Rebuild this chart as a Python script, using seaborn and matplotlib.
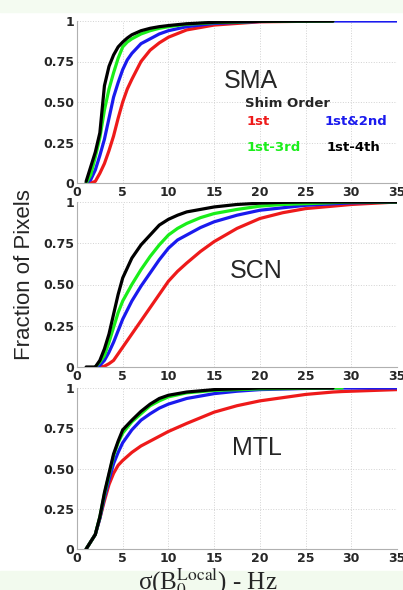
import numpy as np
import pandas as pd
import seaborn as sns
import matplotlib.pyplot as plt
from matplotlib.patches import Rectangle

nan = np.nan

# x grids (Hz) and cumulative fraction of pixels, per region and shim order
sma_x = [1, 1.5, 2, 2.5, 3, 3.5, 4, 4.5, 5, 5.5, 6, 7, 8, 9, 10, 12, 15, 20, 28, 35]
sma_1st = [0, 0, 0.01, 0.06, 0.12, 0.20, 0.29, 0.40, 0.50, 0.58, 0.64, 0.75, 0.82, 0.865, 0.90, 0.945, 0.975, 0.995, 1.0, nan]
sma_1st2nd = [0, 0.02, 0.08, 0.17, 0.27, 0.40, 0.53, 0.62, 0.70, 0.76, 0.80, 0.86, 0.89, 0.92, 0.94, 0.965, 0.985, 0.997, 1.0, 1.0]
sma_1st3rd = [0, 0.05, 0.16, 0.28, 0.45, 0.58, 0.68, 0.77, 0.84, 0.87, 0.89, 0.92, 0.94, 0.955, 0.965, 0.98, 0.99, 0.998, 1.0, nan]
sma_1st4th = [0.01, 0.10, 0.19, 0.31, 0.60, 0.72, 0.79, 0.84, 0.87, 0.895, 0.915, 0.94, 0.955, 0.965, 0.972, 0.983, 0.992, 0.998, 1.0, nan]

scn_x = [1, 2, 2.5, 3, 3.5, 4, 4.5, 5, 6, 7, 8, 9, 10, 11, 12, 13.5, 15, 17.5, 20, 22.5, 25, 30, 35]
scn_1st = [nan, 0, 0, 0.005, 0.02, 0.04, 0.08, 0.12, 0.20, 0.28, 0.36, 0.44, 0.52, 0.58, 0.63, 0.70, 0.76, 0.84, 0.90, 0.935, 0.96, 0.985, 1.0]
scn_1st2nd = [nan, 0, 0.01, 0.04, 0.09, 0.15, 0.22, 0.29, 0.40, 0.49, 0.57, 0.65, 0.72, 0.77, 0.80, 0.845, 0.88, 0.92, 0.95, 0.965, 0.98, 0.995, 1.0]
scn_1st3rd = [nan, 0, 0.03, 0.07, 0.15, 0.24, 0.33, 0.40, 0.50, 0.59, 0.67, 0.74, 0.80, 0.84, 0.87, 0.905, 0.93, 0.955, 0.975, 0.985, 0.99, 1.0, 1.0]
scn_1st4th = [0, 0, 0.04, 0.11, 0.20, 0.32, 0.44, 0.54, 0.66, 0.74, 0.80, 0.86, 0.895, 0.92, 0.94, 0.955, 0.97, 0.985, 0.993, 0.998, 1.0, 1.0, 1.0]

mtl_x = [1, 2, 2.5, 3, 3.5, 4, 4.5, 5, 6, 7, 8, 9, 10, 12, 15, 17.5, 20, 25, 28, 29, 30, 35]
mtl_1st = [0, 0.09, 0.19, 0.30, 0.40, 0.47, 0.52, 0.55, 0.60, 0.64, 0.67, 0.70, 0.73, 0.78, 0.85, 0.89, 0.92, 0.96, 0.975, 0.978, 0.98, 0.99]
mtl_1st2nd = [0, 0.09, 0.19, 0.32, 0.43, 0.53, 0.60, 0.66, 0.74, 0.80, 0.84, 0.875, 0.90, 0.935, 0.965, 0.98, 0.99, 0.997, 1.0, 1.0, 1.0, 1.0]
mtl_1st3rd = [0, 0.09, 0.20, 0.34, 0.46, 0.58, 0.66, 0.72, 0.79, 0.84, 0.89, 0.92, 0.945, 0.97, 0.985, 0.99, 0.995, 0.998, 1.0, 1.0, nan, nan]
mtl_1st4th = [0, 0.09, 0.20, 0.35, 0.47, 0.59, 0.67, 0.74, 0.80, 0.855, 0.90, 0.935, 0.955, 0.975, 0.99, 0.995, 1.0, 1.0, 1.0, nan, nan, nan]

orders = ["1st", "1st&2nd", "1st-3rd", "1st-4th"]
colors = {"1st": "#ee1a1a", "1st&2nd": "#1a1aee", "1st-3rd": "#1aee1a", "1st-4th": "#000000"}
regions = ["SMA", "SCN", "MTL"]
x_ticks = [0, 5, 10, 15, 20, 25, 30, 35]
y_ticks = [0, 0.25, 0.5, 0.75, 1]
y_tick_labels = ["0", "0.25", "0.50", "0.75", "1"]

panels = {
    "SMA": (sma_x, [sma_1st, sma_1st2nd, sma_1st3rd, sma_1st4th]),
    "SCN": (scn_x, [scn_1st, scn_1st2nd, scn_1st3rd, scn_1st4th]),
    "MTL": (mtl_x, [mtl_1st, mtl_1st2nd, mtl_1st3rd, mtl_1st4th]),
}

sns.set_theme(style="white")
plt.rcParams['font.family'] = ['DejaVu Sans']
plt.rcParams['mathtext.fontset'] = 'stix'

fig = plt.figure(figsize=(4.03, 5.90), dpi=100)
fig.patches.append(Rectangle((0, 0), 1, 19 / 590, transform=fig.transFigure,
                             color="#f2faee", zorder=0))
fig.patches.append(Rectangle((0, 1 - 12 / 590), 1, 12 / 590, transform=fig.transFigure,
                             color="#f4fbf1", zorder=0))

# axes boxes in pixels (top, bottom)
boxes = [(21, 183), (202, 367), (388, 549)]
label_pos = {"SMA": (19.0, 0.63), "SCN": (19.6, 0.58), "MTL": (19.7, 0.63)}

for region, (top, bottom) in zip(regions, boxes):
    ax = fig.add_axes([77 / 403, 1 - bottom / 590, 320 / 403, (bottom - top) / 590])
    xs, series = panels[region]
    rows = []
    for order, ys in zip(orders, series):
        for x, y in zip(xs, ys):
            if not np.isnan(y):
                rows.append({"x": x, "y": y, "order": order})
    df = pd.DataFrame(rows)
    sns.lineplot(data=df, x="x", y="y", hue="order", hue_order=orders,
                 palette=colors, linewidth=2.3, estimator=None, sort=False,
                 legend=False, ax=ax)

    ax.set_xlim(0, 35)
    ax.set_ylim(0, 1)
    ax.set_xticks(x_ticks)
    ax.set_yticks(y_ticks)
    ax.set_yticklabels(y_tick_labels)
    ax.tick_params(length=0, labelsize=9, pad=2)
    for lab in ax.get_xticklabels() + ax.get_yticklabels():
        lab.set_fontweight("bold")
    ax.grid(True, color="#d2d2d2", linestyle=":", linewidth=0.7)
    for side in ["top", "right"]:
        ax.spines[side].set_visible(False)
    for side in ["left", "bottom"]:
        ax.spines[side].set_color("#b0b0b0")
        ax.spines[side].set_linewidth(0.8)
    ax.set_xlabel("")
    ax.set_ylabel("")
    ax.set_facecolor("white")

    lx, ly = label_pos[region]
    ax.text(lx, ly, region, fontsize=18, family="Liberation Sans",
            ha="center", va="center")

    if region == "SMA":
        ax.text(18.4, 0.49, "Shim Order", fontsize=9.5, fontweight="bold", va="center")
        ax.text(18.5, 0.38, "1st", color=colors["1st"], fontsize=9.5, fontweight="bold", va="center")
        ax.text(27.1, 0.38, "1st&2nd", color=colors["1st&2nd"], fontsize=9.5, fontweight="bold", va="center")
        ax.text(18.5, 0.22, "1st-3rd", color=colors["1st-3rd"], fontsize=9.5, fontweight="bold", va="center")
        ax.text(27.3, 0.22, "1st-4th", color=colors["1st-4th"], fontsize=9.5, fontweight="bold", va="center")

fig.text(25 / 403, 1 - 275 / 590, "Fraction of Pixels", rotation=90, fontsize=16,
         family="Liberation Sans", ha="center", va="center")

fig.text(208 / 403, 1 - 582 / 590, r"σ(B$_0^{\mathrm{Local}}$) - Hz", fontsize=18,
         family="Liberation Serif", ha="center", va="center")

fig.savefig("out.png", dpi=100)
